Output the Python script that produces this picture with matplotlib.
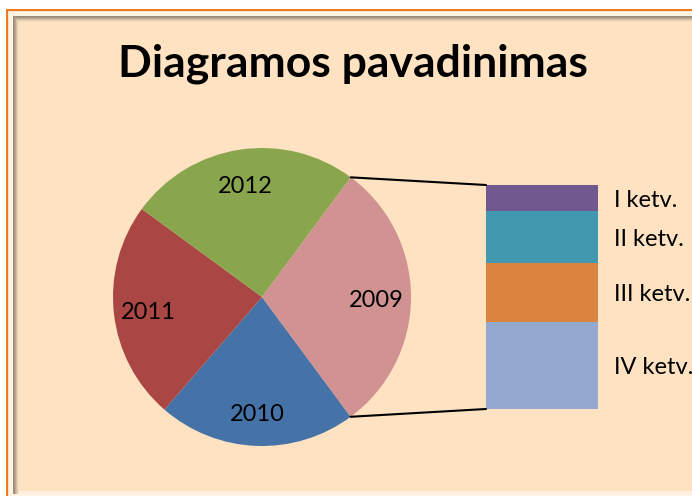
import matplotlib
matplotlib.use('Agg')
import matplotlib.pyplot as plt
from matplotlib.patches import Rectangle, ConnectionPatch
import matplotlib.transforms as mtransforms
import numpy as np

years = ['2010', '2011', '2012', '2009']
year_values = [21.5, 23.7, 25.1, 29.7]
year_colors = ['#4572A7', '#AA4643', '#89A54E', '#D19292']
quarters = ['I ketv.', 'II ketv.', 'III ketv.', 'IV ketv.']
quarter_values = [3.5, 6.8, 7.8, 11.6]
quarter_colors = ['#71588F', '#4198AF', '#DB843D', '#93A9CF']
title = 'Diagramos pavadinimas'

FONT = ['Lato', 'DejaVu Sans']
W, H = 692, 496
fig = plt.figure(figsize=(W / 100, H / 100), dpi=100)
fig.patch.set_facecolor('white')
ax = fig.add_axes([0, 0, 1, 1])
ax.set_xlim(0, W)
ax.set_ylim(0, H)
ax.axis('off')


def rect(x0, y0, x1, y1, color):
    ax.add_patch(Rectangle((x0, H - y1), x1 - x0, y1 - y0, facecolor=color,
                           edgecolor='none', lw=0, zorder=0))


# frame with bevel
rect(6, 9, W + 5, H + 5, '#EE7A22')
rect(8, 11, W + 5, H + 5, '#FBE3C8')
rect(9, 12, W + 5, H + 5, '#FFF3E2')
grays = ['#9A8A7A', '#A89684', '#BCA992', '#D2BEA4', '#E8D2B6', '#F7DDBF']
for i, c in enumerate(grays):
    rect(13 + i, 16 + i, W + 5, 494, c)
rect(19, 22, W + 5, 491, '#FFE2C1')
rect(19, 491, W + 5, 494, '#FFEFDC')

# pie
cx, cy, r = 262, H - 297, 149
start = -53.5
wedges, texts = ax.pie(year_values, colors=year_colors, labels=years,
                       startangle=start, counterclock=False,
                       center=(cx, cy), radius=r, labeldistance=0.77,
                       frame=True, wedgeprops=dict(linewidth=0),
                       textprops=dict(fontsize=17, family=FONT, color='black'))
for t in texts:
    t.set_ha('center')
    t.set_va('center')
    x, y = t.get_position()
    t.set_position((x, y - 3))
ax.set_xlim(0, W)
ax.set_ylim(0, H)
ax.set_aspect('auto')
ax.axis('off')

# bar of the last slice
bax = fig.add_axes([486 / W, (H - 409) / H, (598 - 486) / W, (409 - 185) / H])
total = sum(quarter_values)
bottoms = np.concatenate([[0], np.cumsum(quarter_values)[:-1]])
bax.bar(0, quarter_values, bottom=bottoms, width=1.0, color=quarter_colors,
        linewidth=0)
bax.set_xlim(-0.5, 0.5)
bax.set_ylim(total, 0)
bax.axis('off')

trans = mtransforms.blended_transform_factory(ax.transData, bax.transData)
off = mtransforms.offset_copy(trans, fig=fig, x=0, y=-2, units='dots')
for q, b, v in zip(quarters, bottoms, quarter_values):
    ax.text(614, b + v / 2, q, transform=off, ha='left', va='center',
            fontsize=17, family=FONT, color='black')

# connector lines
frac_before = sum(year_values[:-1]) / sum(year_values)
a1 = np.deg2rad(start)
a2 = np.deg2rad(start - 360 * frac_before)
p_bottom = (cx + r * np.cos(a1), cy + r * np.sin(a1))
p_top = (cx + r * np.cos(a2), cy + r * np.sin(a2))
for pA, yb in [(p_top, 0), (p_bottom, total)]:
    con = ConnectionPatch(xyA=pA, coordsA=ax.transData, xyB=(-0.5, yb),
                          coordsB=bax.transData, color='black', lw=1.5)
    fig.add_artist(con)

ax.text(353, H - 77, title, ha='center', va='baseline', fontsize=32,
        fontweight='bold', family=FONT, color='black')

fig.savefig('out.png', dpi=100, facecolor='white')
